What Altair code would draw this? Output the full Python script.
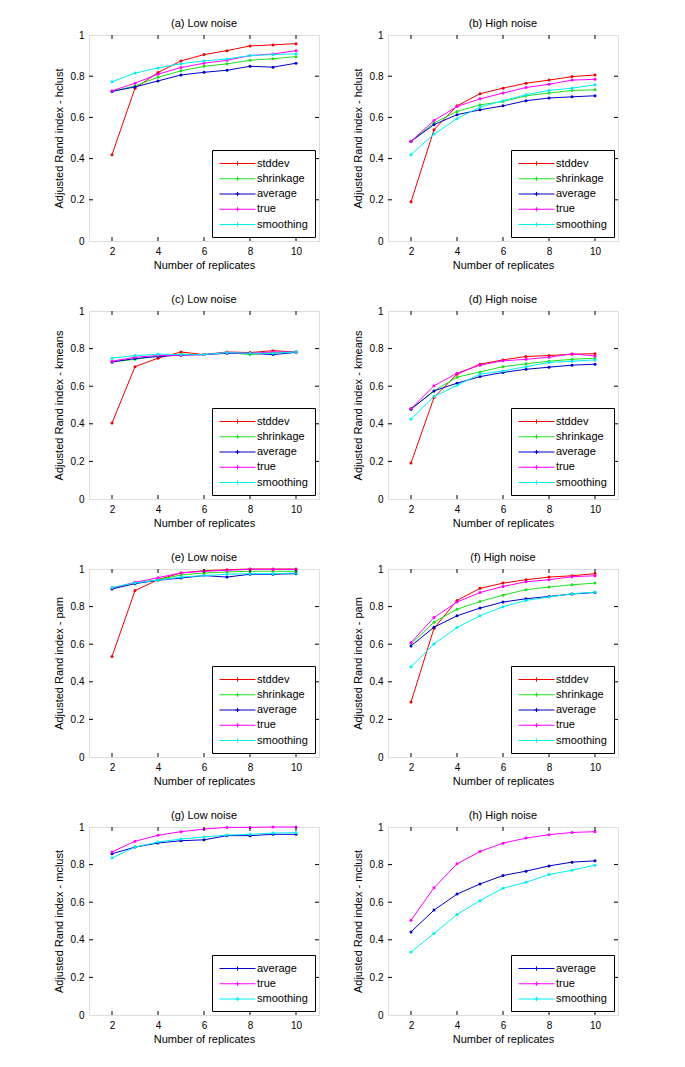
import altair as alt
import pandas as pd

# ---------------- data ----------------
replicates = [2, 3, 4, 5, 6, 7, 8, 9, 10]
methods5 = ["stddev", "shrinkage", "average", "true", "smoothing"]
methods3 = ["average", "true", "smoothing"]
colors5 = ["#f00000", "#20e020", "#0000c8", "#ff00ff", "#00f0f0"]
colors3 = ["#0000c8", "#ff00ff", "#00f0f0"]

hclust_low = {
    "stddev":    [0.419, 0.742, 0.818, 0.874, 0.905, 0.924, 0.947, 0.952, 0.958],
    "shrinkage": [0.726, 0.753, 0.795, 0.826, 0.848, 0.860, 0.877, 0.885, 0.895],
    "average":   [0.726, 0.748, 0.777, 0.806, 0.819, 0.829, 0.848, 0.844, 0.863],
    "true":      [0.729, 0.766, 0.810, 0.842, 0.863, 0.877, 0.900, 0.908, 0.924],
    "smoothing": [0.773, 0.815, 0.840, 0.861, 0.874, 0.884, 0.900, 0.905, 0.908],
}
hclust_high = {
    "stddev":    [0.190, 0.540, 0.656, 0.715, 0.742, 0.766, 0.781, 0.798, 0.806],
    "shrinkage": [0.484, 0.573, 0.629, 0.661, 0.677, 0.705, 0.718, 0.731, 0.734],
    "average":   [0.484, 0.565, 0.613, 0.637, 0.656, 0.681, 0.694, 0.700, 0.705],
    "true":      [0.484, 0.585, 0.653, 0.690, 0.718, 0.745, 0.761, 0.781, 0.785],
    "smoothing": [0.419, 0.519, 0.594, 0.650, 0.681, 0.710, 0.731, 0.742, 0.758],
}
kmeans_low = {
    "stddev":    [0.404, 0.704, 0.749, 0.782, 0.768, 0.782, 0.779, 0.789, 0.782],
    "shrinkage": [0.729, 0.743, 0.761, 0.770, 0.768, 0.779, 0.768, 0.779, 0.782],
    "average":   [0.729, 0.747, 0.758, 0.765, 0.768, 0.775, 0.775, 0.768, 0.780],
    "true":      [0.733, 0.754, 0.763, 0.765, 0.768, 0.779, 0.775, 0.782, 0.782],
    "smoothing": [0.749, 0.763, 0.770, 0.768, 0.768, 0.779, 0.775, 0.775, 0.782],
}
kmeans_high = {
    "stddev":    [0.191, 0.540, 0.664, 0.717, 0.740, 0.758, 0.763, 0.770, 0.773],
    "shrinkage": [0.478, 0.575, 0.648, 0.676, 0.704, 0.719, 0.733, 0.743, 0.749],
    "average":   [0.478, 0.575, 0.616, 0.651, 0.673, 0.690, 0.701, 0.712, 0.717],
    "true":      [0.481, 0.602, 0.669, 0.712, 0.735, 0.743, 0.754, 0.772, 0.761],
    "smoothing": [0.425, 0.545, 0.605, 0.664, 0.681, 0.704, 0.726, 0.733, 0.740],
}
pam_low = {
    "stddev":    [0.535, 0.885, 0.943, 0.979, 0.991, 0.996, 1.000, 1.000, 1.000],
    "shrinkage": [0.895, 0.926, 0.943, 0.968, 0.979, 0.984, 0.988, 0.988, 0.988],
    "average":   [0.894, 0.922, 0.940, 0.952, 0.965, 0.957, 0.972, 0.972, 0.975],
    "true":      [0.899, 0.929, 0.954, 0.979, 0.988, 0.993, 0.998, 0.998, 0.998],
    "smoothing": [0.902, 0.926, 0.940, 0.957, 0.965, 0.972, 0.975, 0.975, 0.979],
}
pam_high = {
    "stddev":    [0.292, 0.685, 0.833, 0.897, 0.925, 0.943, 0.957, 0.964, 0.975],
    "shrinkage": [0.601, 0.717, 0.786, 0.827, 0.861, 0.890, 0.904, 0.916, 0.925],
    "average":   [0.591, 0.690, 0.751, 0.792, 0.824, 0.842, 0.854, 0.867, 0.875],
    "true":      [0.609, 0.742, 0.824, 0.875, 0.907, 0.932, 0.943, 0.959, 0.964],
    "smoothing": [0.480, 0.601, 0.689, 0.751, 0.799, 0.833, 0.851, 0.868, 0.877],
}
mclust_low = {
    "average":   [0.858, 0.893, 0.915, 0.927, 0.932, 0.954, 0.954, 0.961, 0.961],
    "true":      [0.867, 0.924, 0.956, 0.975, 0.989, 0.998, 0.998, 1.000, 1.000],
    "smoothing": [0.835, 0.893, 0.920, 0.936, 0.947, 0.957, 0.961, 0.968, 0.970],
}
mclust_high = {
    "average":   [0.442, 0.558, 0.643, 0.697, 0.742, 0.765, 0.793, 0.813, 0.820],
    "true":      [0.504, 0.677, 0.804, 0.870, 0.914, 0.941, 0.959, 0.971, 0.975],
    "smoothing": [0.335, 0.433, 0.535, 0.608, 0.674, 0.706, 0.747, 0.770, 0.797],
}

x_ticks = [2, 4, 6, 8, 10]
y_ticks = [0, 0.2, 0.4, 0.6, 0.8, 1]

FONT = "Liberation Sans"
W = 230


def panel(values, methods, colors, title, ylabel, height):
    rows = []
    for m in methods:
        for r, v in zip(replicates, values[m]):
            rows.append({"replicates": r, "ari": v, "method": m})
    df = pd.DataFrame(rows)

    xscale = alt.Scale(domain=[1, 11], nice=False, zero=False)
    yscale = alt.Scale(domain=[0, 1], nice=False)
    cscale = alt.Scale(domain=methods, range=colors)

    xaxis = alt.Axis(values=x_ticks, title="Number of replicates",
                     ticks=False, domain=False, grid=False,
                     labelPadding=5, titlePadding=3,
                     titleFontWeight="normal", titleFont=FONT, titleFontSize=11)
    yaxis = alt.Axis(values=y_ticks, format="~g", title=ylabel,
                     ticks=False, domain=False, grid=False,
                     labelPadding=5, titlePadding=6,
                     titleFontWeight="normal", titleFont=FONT, titleFontSize=11)
    x = alt.X("replicates:Q", scale=xscale, axis=xaxis)
    y = alt.Y("ari:Q", scale=yscale, axis=yaxis)

    lines = alt.Chart(df).mark_line(strokeWidth=1).encode(
        x=x, y=y,
        stroke=alt.Stroke("method:N", scale=cscale, sort=methods,
                          legend=alt.Legend(
                              title=None, orient="bottom-right", offset=4,
                              strokeColor="black", fillColor="white",
                              padding=7, labelFontSize=11, labelFont=FONT,
                              labelColor="black",
                              symbolType="M-3,0H3M0,-0.35V0.35M-0.35,0H0.35",
                              symbolSize=144, symbolOffset=12,
                              symbolStrokeWidth=1, labelOffset=13,
                              rowPadding=3.25)),
        order="replicates:Q",
    )
    pts = alt.Chart(df).mark_circle(size=9, opacity=1).encode(
        x=x, y=y,
        fill=alt.Fill("method:N", scale=cscale, legend=None),
    )

    yt = pd.DataFrame({"ari": y_ticks[1:-1]})
    xt = pd.DataFrame({"replicates": x_ticks})
    tick_y_left = alt.Chart(yt).mark_rule(color="black", strokeWidth=1).encode(
        y=y, x=alt.value(0), x2=alt.value(4))
    tick_y_right = alt.Chart(yt).mark_rule(color="black", strokeWidth=1).encode(
        y=y, x=alt.value(W - 4), x2=alt.value(W))
    tick_x_bot = alt.Chart(xt).mark_rule(color="black", strokeWidth=1).encode(
        x=x, y=alt.value(height - 4), y2=alt.value(height))
    tick_x_top = alt.Chart(xt).mark_rule(color="black", strokeWidth=1).encode(
        x=x, y=alt.value(0), y2=alt.value(4))

    return alt.layer(lines, pts, tick_y_left, tick_y_right, tick_x_bot, tick_x_top).properties(
        width=W, height=height,
        title=alt.TitleParams(title, fontSize=11, fontWeight="normal", font=FONT,
                              color="black", offset=1),
    )


specs = [
    (hclust_low, methods5, colors5, "(a) Low noise", "Adjusted Rand index - hclust", 206),
    (hclust_high, methods5, colors5, "(b) High noise", "Adjusted Rand index - hclust", 206),
    (kmeans_low, methods5, colors5, "(c) Low noise", "Adjusted Rand index - kmeans", 188),
    (kmeans_high, methods5, colors5, "(d) High noise", "Adjusted Rand index - kmeans", 188),
    (pam_low, methods5, colors5, "(e) Low noise", "Adjusted Rand index - pam", 188),
    (pam_high, methods5, colors5, "(f) High noise", "Adjusted Rand index - pam", 188),
    (mclust_low, methods3, colors3, "(g) Low noise", "Adjusted Rand index - mclust", 188),
    (mclust_high, methods3, colors3, "(h) High noise", "Adjusted Rand index - mclust", 188),
]

panels = [panel(*s) for s in specs]

chart = alt.concat(*panels, columns=2, spacing={"row": 22, "column": 31}).resolve_scale(
    stroke="independent", fill="independent"
).resolve_legend(
    stroke="independent", fill="independent"
).properties(
    padding={"left": 44, "top": 9, "right": 5, "bottom": 5}
).configure_view(
    stroke="black", strokeWidth=1
).configure_axis(
    labelFont=FONT, titleFont=FONT, labelFontSize=11, titleFontSize=11,
    labelColor="black", titleColor="black", titleFontWeight="normal",
).configure(background="white")

chart.save("out.html", embed_options={"renderer": "svg", "actions": False})
